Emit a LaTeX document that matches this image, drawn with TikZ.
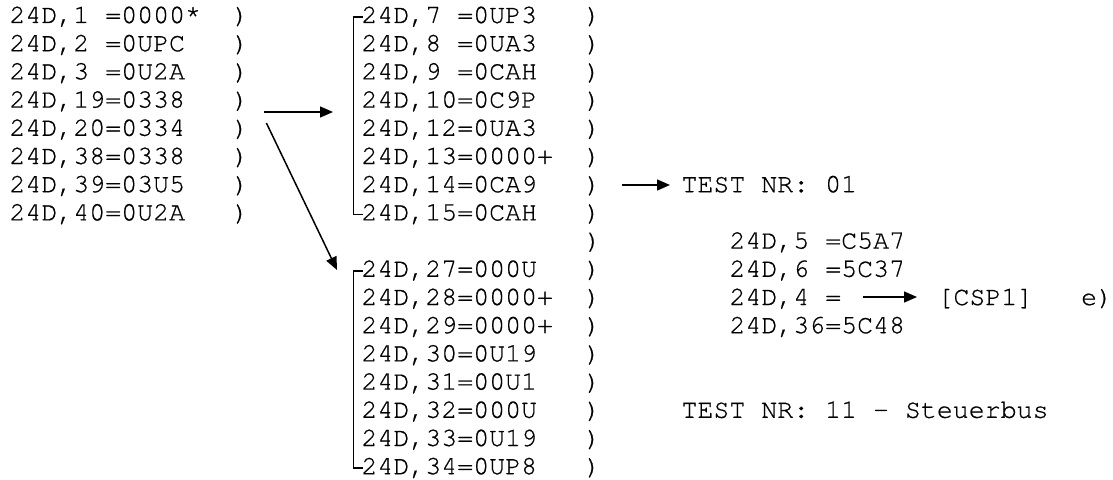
\documentclass[tikz,border=0pt]{standalone}
\usepackage{fontspec}
\setmonofont[FakeBold=0.6]{texgyrecursor-regular.otf}
\usetikzlibrary{arrows.meta,calc}
\tikzset{
  line/.style={font=\ttfamily\fontsize{26.6}{28.2}\selectfont,
    anchor=base west, inner sep=0pt, outer sep=0pt},
  arr/.style={-{Triangle[length=13pt,width=11pt]}, line width=1.5pt},
  brk/.style={line width=1.6pt},
}
\begin{document}
\begin{tikzpicture}[x=1pt,y=-1pt]
\useasboundingbox (0,0) rectangle (1113,479);
% character grid: column c starts at 9.5+16c, row r has its baseline at 23+28.2r

% left block
\foreach \t [count=\i from 0] in {%
  {24D,1~=0000*~~)},{24D,2~=0UPC~~~)},{24D,3~=0U2A~~~)},{24D,19=0338~~~)},
  {24D,20=0334~~~)},{24D,38=0338~~~)},{24D,39=03U5~~~)},{24D,40=0U2A~~~)}}
  \node[line] (L\i) at (9.5,{23+28.2*\i}) {\t};

% middle block, upper and lower groups
\foreach \t [count=\i from 0] in {%
  {24D,7~=0UP3~~~)},{24D,8~=0UA3~~~)},{24D,9~=0CAH~~~)},{24D,10=0C9P~~~)},
  {24D,12=0UA3~~~)},{24D,13=0000+~~)},{24D,14=0CA9~~~)},{24D,15=0CAH~~~)}}
  \node[line] (M\i) at (361.5,{23+28.2*\i}) {\t};
\node[line] (M8) at (585.5,{23+28.2*8}) {)};
\foreach \t [count=\i from 9] in {%
  {24D,27=000U~~~)},{24D,28=0000+~~)},{24D,29=0000+~~)},{24D,30=0U19~~~)},
  {24D,31=00U1~~~)},{24D,32=000U~~~)},{24D,33=0U19~~~)},{24D,34=0UP8~~~)}}
  \node[line] (M\i) at (361.5,{23+28.2*\i}) {\t};

% brackets in front of the two middle groups
\draw[brk] ($(M0.base west)+(1.5,-6)$) -- ($(M0.base west)+(-8,-6)$)
  -- ($(M7.base west)+(-8,-6)$) -- ($(M7.base west)+(1.5,-6)$);
\draw[brk] ($(M9.base west)+(1.5,-6)$) -- ($(M9.base west)+(-8,-6)$)
  -- ($(M16.base west)+(-8,-6)$) -- ($(M16.base west)+(1.5,-6)$);

% right side
\node[line] (T1) at (681.5,{23+28.2*6}) {TEST~NR:~01};
\foreach \t [count=\i from 8] in {{24D,5~=C5A7},{24D,6~=5C37},{24D,4~=},{24D,36=5C48}}
  \node[line] (R\i) at (729.5,{23+28.2*\i}) {\t};
\node[line] (C) at (937.5,{23+28.2*10}) {[CSP1]~~~e)};
\node[line] (T2) at (681.5,{23+28.2*14}) {TEST~NR:~11~-~Steuerbus};

% connectors
\draw[arr] ($(L3.base east)+(15.5,4.4)$) -- ($(M3.base west)+(-28.5,4.4)$);
\draw[arr] ($(L4.base east)+(17.5,-12.8)$) -- ($(M9.base west)+(-24.5,-6.8)$);
\draw[arr] ($(M6.base east)+(21.5,-7.2)$) -- ($(T1.base west)+(-11.5,-7.2)$);
\draw[arr] ($(R10.base east)+(21.5,-8)$) -- ($(C.base west)+(-20.5,-8)$);
\end{tikzpicture}
\end{document}
